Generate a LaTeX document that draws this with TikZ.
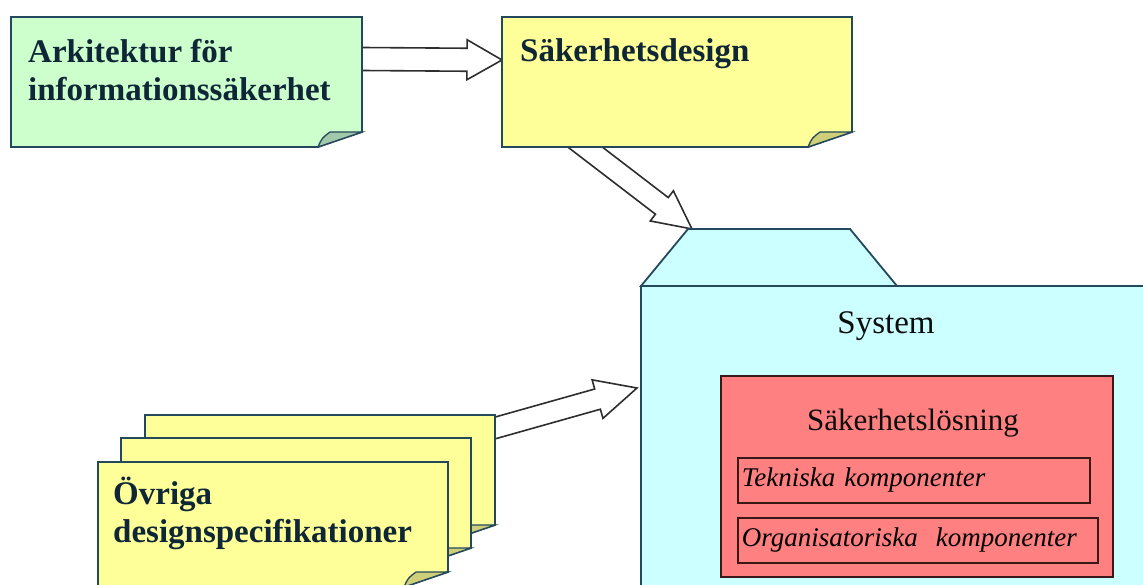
\documentclass[tikz,border=0pt]{standalone}
\usepackage{fontspec}
\setmainfont{Liberation Serif}
\usetikzlibrary{calc}

\definecolor{notegreen}{HTML}{CCFFCC}
\definecolor{foldgreen}{HTML}{A3C9AC}
\definecolor{noteyellow}{HTML}{FFFF99}
\definecolor{foldyellow}{HTML}{CFCF7A}
\definecolor{syscyan}{HTML}{CCFFFF}
\definecolor{solred}{HTML}{FF8080}
\definecolor{edgeblue}{HTML}{24485C}
\definecolor{inktext}{HTML}{0E2636}
\definecolor{arrowgray}{HTML}{2E2E2E}
\definecolor{rededge}{HTML}{3A1818}

\tikzset{
  frame/.style={draw=none, inner sep=0pt, outer sep=0pt, anchor=north west},
  notepath/.style={draw=edgeblue, line width=1.8pt, line join=miter},
  notetext/.style={inner sep=0pt, anchor=north west, align=left, text=inktext,
    font=\fontsize{33}{38}\selectfont\bfseries},
  blockarrow/.style={draw=arrowgray, fill=white, line width=1.6pt, line join=miter},
  title/.style={inner sep=0pt, anchor=base, text=black!95,
    font=\fontsize{33}{38}\selectfont},
  comp/.style={draw=rededge, line width=1.7pt, fill=solred, anchor=north west,
    inner xsep=4pt, inner ysep=0pt, minimum height=45pt, align=left,
    font=\fontsize{27}{30}\selectfont\itshape, text=black}
}

% note sheet with a folded lower right corner
\newcommand\noteshape[3]{%
  \draw[notepath, fill=#2] (#1.north west) -- (#1.north east)
    -- ([yshift=15pt]#1.south east) -- ([xshift=-44pt]#1.south east)
    -- (#1.south west) -- cycle;
  \draw[notepath, line width=1.3pt, fill=#3] ([xshift=-44pt]#1.south east)
    .. controls ([xshift=-40pt,yshift=9pt]#1.south east) .. ([xshift=-32pt,yshift=15pt]#1.south east)
    -- ([yshift=15pt]#1.south east) -- cycle;
}

% wide hollow arrow: start, tip, shaft half width, head half width, head length
\newcommand\blockarrow[5]{%
  \coordinate (ba-s) at ($(#1)!-14pt!(#2)$);
  \coordinate (ba-h) at ($(#2)!#5!(#1)$);
  \draw[blockarrow] ($(ba-s)!#3!90:(#2)$) -- ($(ba-h)!#3!90:(#2)$)
    -- ($(ba-h)!#4!90:(#2)$) -- (#2) -- ($(ba-h)!#4!-90:(#2)$)
    -- ($(ba-h)!#3!-90:(#2)$) -- ($(ba-s)!#3!-90:(#2)$) -- cycle;
}

\begin{document}
\begin{tikzpicture}[x=1pt, y=-1pt]
\useasboundingbox (0,0) rectangle (1143,585);
\clip (0,0) rectangle (1143,585);

% placement of the sheets and the system package
\node[frame, minimum width=351pt, minimum height=130pt] (arch) at (11,17) {};
\node[frame, minimum width=350pt, minimum height=130pt] (des) at (502,17) {};
\node[frame, minimum width=350pt, minimum height=125pt] (spec3) at (145,415) {};
\node[frame, minimum width=350pt, minimum height=125pt] (spec2) at (121,438) {};
\node[frame, minimum width=350pt, minimum height=125pt] (spec1) at (98,462) {};
\node[frame, minimum width=520pt, minimum height=340pt] (sys) at (641,286) {};
\coordinate (tabsw) at (sys.north west);
\coordinate (tabnw) at ($(sys.north west)+(47,-57)$);
\coordinate (tabne) at ($(sys.north west)+(209,-57)$);
\coordinate (tabse) at ($(sys.north west)+(256,0)$);

% arrow end points
\coordinate (a1s) at ($(arch.north east)+(0,42)$);
\coordinate (a1t) at ($(des.north west)+(0,43)$);
\coordinate (a2s) at ($(des.south west)+(83,0)$);
\coordinate (a2t) at ($(tabnw)+(4,0)$);
\coordinate (a3s) at ($(spec3.north east)+(0,13)$);
\coordinate (a3t) at ($(sys.north west)+(-4,102)$);

% connectors
\blockarrow{a1s}{a1t}{11.5pt}{20pt}{35pt}
\blockarrow{a2s}{a2t}{10.5pt}{19pt}{38pt}
\blockarrow{a3s}{a3t}{10.5pt}{20pt}{41pt}

% sheets
\noteshape{arch}{notegreen}{foldgreen}
\noteshape{des}{noteyellow}{foldyellow}
\noteshape{spec3}{noteyellow}{foldyellow}
\noteshape{spec2}{noteyellow}{foldyellow}
\noteshape{spec1}{noteyellow}{foldyellow}

\node[notetext] (archtxt) at ($(arch.north west)+(17,22)$) {Arkitektur för\\informationssäkerhet};
\node[notetext] (destxt) at ($(des.north west)+(18,21)$) {Säkerhetsdesign};
\node[notetext] (spectxt) at ($(spec1.north west)+(15,15)$) {Övriga\\designspecifikationer};

% system package with its tab
\draw[notepath, fill=syscyan] (tabsw) -- (tabnw) -- (tabne) -- (tabse) -- cycle;
\draw[notepath, fill=syscyan] (sys.south west) -- (sys.north west) -- (sys.north east)
  -- (sys.south east) -- cycle;
\node[title] (systxt) at ($(sys.north west)+(245,47)$) {System};

% security solution
\node[frame, draw=rededge, line width=1.7pt, fill=solred,
  minimum width=392pt, minimum height=201pt] (sol) at (721,376) {};
\node[title, font=\fontsize{31}{36}\selectfont] (soltxt) at ($(sol.north)+(-4,54)$) {Säkerhetslösning};
\node[comp, text width=344pt] (tek) at ($(sol.north west)+(16,81)$) {Tekniska komponenter};
\node[comp, text width=352pt] (org) at ($(sol.north west)+(16,141)$) {Organisatoriska\ \ komponenter};
\end{tikzpicture}
\end{document}
